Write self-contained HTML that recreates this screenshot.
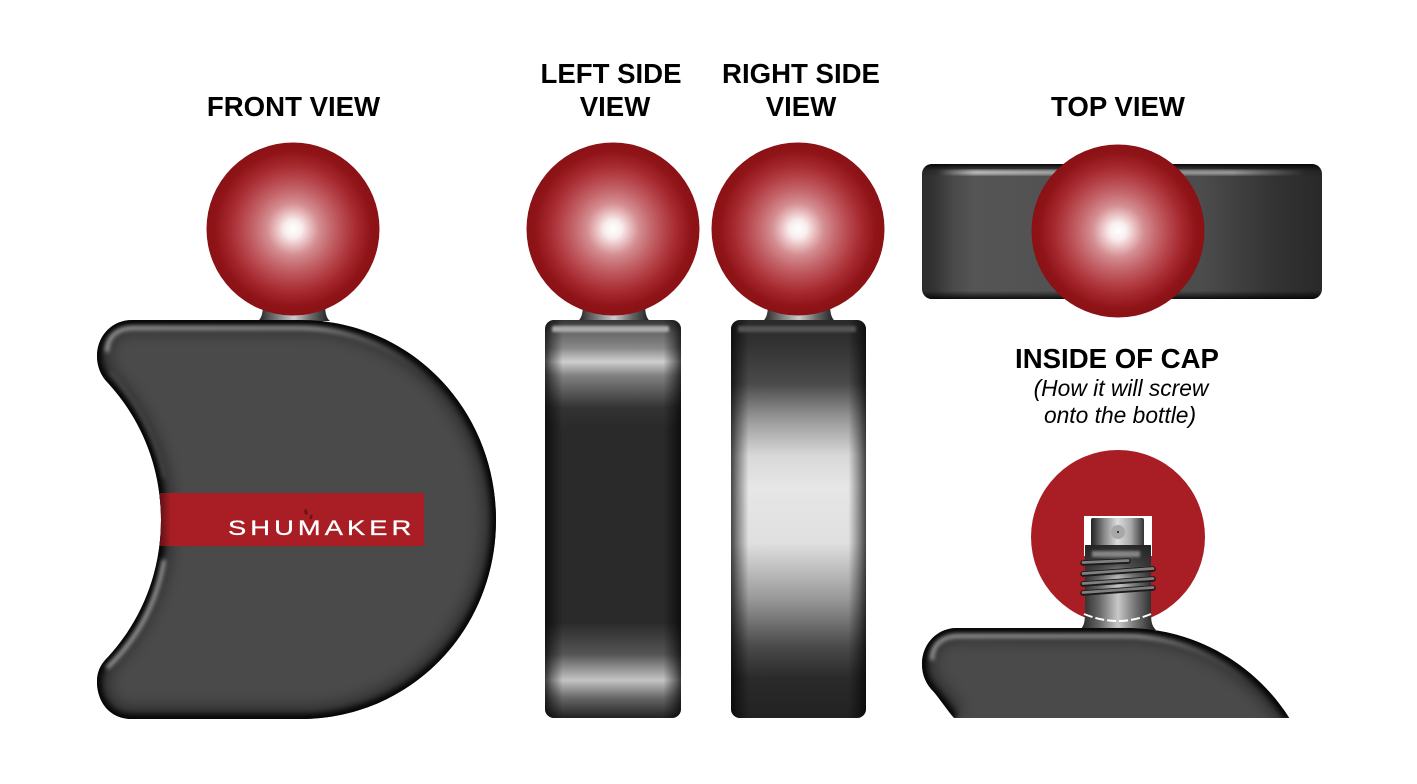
<!DOCTYPE html>
<html><head><meta charset="utf-8"><style>
html,body{margin:0;padding:0;background:#fff;width:1417px;height:784px;overflow:hidden}
svg{display:block;overflow:hidden}
text{font-family:"Liberation Sans",sans-serif}
.h{font-weight:bold;font-size:27.6px;text-anchor:middle;fill:#000}
.i{font-style:italic;font-size:22.8px;text-anchor:middle;fill:#000}
</style></head><body>
<svg width="1417" height="784" viewBox="0 0 1417 784" xmlns="http://www.w3.org/2000/svg">
<defs>
<radialGradient id="ball"><stop offset="0" stop-color="#fff"/><stop offset=".1" stop-color="#f9eeee"/><stop offset=".2" stop-color="#e8bcbe"/><stop offset=".3" stop-color="#d48e92"/><stop offset=".45" stop-color="#c4666b"/><stop offset=".6" stop-color="#b5444a"/><stop offset=".75" stop-color="#a4272d"/><stop offset=".9" stop-color="#8f1418"/><stop offset="1" stop-color="#8a1115"/></radialGradient>
<linearGradient id="neck" x1="0" x2="1" y1="0" y2="0"><stop offset="0" stop-color="#222"/><stop offset=".25" stop-color="#777"/><stop offset=".5" stop-color="#ccc"/><stop offset=".75" stop-color="#666"/><stop offset="1" stop-color="#1c1c1c"/></linearGradient>
<linearGradient id="hfade" gradientUnits="userSpaceOnUse" x1="105" x2="430" y1="0" y2="0"><stop offset="0" stop-color="#aaa"/><stop offset=".65" stop-color="#9a9a9a"/><stop offset="1" stop-color="#666" stop-opacity="0"/></linearGradient>
<path id="shape" d="M132 320L300 320C410 320 496 409 496 520C496 631 410 719 300 719L132 719C108 719 97 700 97 682C97 670 102 663 108 657C140 622 161 575 161 520C161 465 140 418 108 383C102 377 97 368 97 356C97 336 112 320 132 320Z"/>
<path id="shape2" d="M129 410C122 402 115 391 108 383C102 377 97 368 97 356C97 336 112 320 132 320L300 320C369.6 320 429.6 355.6 464.3 410"/>
<clipPath id="cb"><use href="#shape"/></clipPath>
<clipPath id="cb2"><use href="#shape2"/></clipPath>
<filter id="b1" x="-20%" y="-20%" width="140%" height="140%"><feGaussianBlur stdDeviation="1.4"/></filter>
<filter id="b3" x="-20%" y="-20%" width="140%" height="140%"><feGaussianBlur stdDeviation="3"/></filter>
<filter id="b2" x="-20%" y="-50%" width="140%" height="200%"><feGaussianBlur stdDeviation="2"/></filter>
<filter id="b7" x="-20%" y="-20%" width="140%" height="140%"><feGaussianBlur stdDeviation="7"/></filter>
<linearGradient id="lg" x1="0" x2="0" y1="0" y2="1"><stop offset="0" stop-color="#333"/><stop offset=".03" stop-color="#666"/><stop offset=".07" stop-color="#888"/><stop offset=".105" stop-color="#cfcfcf"/><stop offset=".14" stop-color="#808080"/><stop offset=".22" stop-color="#333"/><stop offset=".27" stop-color="#2a2a2a"/><stop offset=".76" stop-color="#2a2a2a"/><stop offset=".84" stop-color="#555"/><stop offset=".905" stop-color="#c4c4c4"/><stop offset=".95" stop-color="#666"/><stop offset="1" stop-color="#222"/></linearGradient>
<linearGradient id="rg" x1="0" x2="0" y1="0" y2="1"><stop offset="0" stop-color="#2a2a2a"/><stop offset=".06" stop-color="#323232"/><stop offset=".16" stop-color="#4a4a4a"/><stop offset=".25" stop-color="#999"/><stop offset=".34" stop-color="#d8d8d8"/><stop offset=".42" stop-color="#e6e6e6"/><stop offset=".56" stop-color="#e0e0e0"/><stop offset=".7" stop-color="#999"/><stop offset=".82" stop-color="#4a4a4a"/><stop offset=".9" stop-color="#2a2a2a"/><stop offset="1" stop-color="#222"/></linearGradient>
<linearGradient id="ed" x1="0" x2="1" y1="0" y2="0"><stop offset="0" stop-color="#000" stop-opacity=".7"/><stop offset=".05" stop-color="#000" stop-opacity=".4"/><stop offset=".13" stop-color="#000" stop-opacity="0"/><stop offset=".87" stop-color="#000" stop-opacity="0"/><stop offset=".95" stop-color="#000" stop-opacity=".4"/><stop offset="1" stop-color="#000" stop-opacity=".7"/></linearGradient>
<linearGradient id="tg" x1="0" x2="1" y1="0" y2="0"><stop offset="0" stop-color="#2c2c2c"/><stop offset=".03" stop-color="#333"/><stop offset=".08" stop-color="#4a4a4a"/><stop offset=".13" stop-color="#555"/><stop offset=".7" stop-color="#4c4c4c"/><stop offset=".88" stop-color="#333"/><stop offset="1" stop-color="#292929"/></linearGradient>
<linearGradient id="tv" x1="0" x2="0" y1="0" y2="1"><stop offset="0" stop-color="#000" stop-opacity=".9"/><stop offset=".05" stop-color="#000" stop-opacity=".15"/><stop offset=".1" stop-color="#000" stop-opacity="0"/><stop offset=".94" stop-color="#000" stop-opacity="0"/><stop offset="1" stop-color="#000" stop-opacity=".85"/></linearGradient>
<linearGradient id="hl" x1="0" x2="1" y1="0" y2="0"><stop offset="0" stop-color="#ccc" stop-opacity="0"/><stop offset=".1" stop-color="#ccc"/><stop offset=".5" stop-color="#999"/><stop offset=".8" stop-color="#aaa"/><stop offset="1" stop-color="#999" stop-opacity="0"/></linearGradient>
<linearGradient id="sp" x1="0" x2="1" y1="0" y2="0"><stop offset="0" stop-color="#222"/><stop offset=".25" stop-color="#888"/><stop offset=".5" stop-color="#ddd"/><stop offset=".75" stop-color="#aaa"/><stop offset="1" stop-color="#333"/></linearGradient>
<linearGradient id="col" x1="0" x2="1" y1="0" y2="0"><stop offset="0" stop-color="#222"/><stop offset=".25" stop-color="#666"/><stop offset=".5" stop-color="#c8c8c8"/><stop offset=".72" stop-color="#777"/><stop offset="1" stop-color="#1c1c1c"/></linearGradient>
<linearGradient id="coltop" x1="0" x2="0" y1="0" y2="1"><stop offset="0" stop-color="#222" stop-opacity=".95"/><stop offset=".6" stop-color="#333" stop-opacity=".75"/><stop offset="1" stop-color="#333" stop-opacity="0"/></linearGradient>
<linearGradient id="red" x1="0" x2="1" y1="0" y2="0"><stop offset="0" stop-color="#000" stop-opacity=".5"/><stop offset="1" stop-color="#000" stop-opacity="0"/></linearGradient>
<clipPath id="lc"><rect x="545" y="320" width="136" height="398" rx="9"/></clipPath>
<clipPath id="rc"><rect x="731" y="320" width="135" height="398" rx="9"/></clipPath>
</defs>
<rect width="1417" height="784" fill="#fff"/>

<text class="h" x="293.500" y="116">FRONT VIEW</text>
<text class="h" x="611" y="83">LEFT SIDE</text>
<text class="h" x="615" y="116">VIEW</text>
<text class="h" x="801" y="83">RIGHT SIDE</text>
<text class="h" x="801" y="116">VIEW</text>
<text class="h" x="1118" y="116">TOP VIEW</text>
<text class="h" x="1117" y="368">INSIDE OF CAP</text>
<text class="i" x="1121" y="396">(How it will screw</text>
<text class="i" x="1120" y="423">onto the bottle)</text>

<!-- front -->
<path d="M258 321C262 318 263 312 263 302H325C325 312 326 318 330 321Z" fill="url(#neck)"/>
<use href="#shape" fill="#4a4a4a"/>
<g clip-path="url(#cb)">
 <use href="#shape" fill="none" stroke="#000" stroke-width="26" filter="url(#b7)" opacity=".35"/>
 <use href="#shape" fill="none" stroke="#000" stroke-width="10" filter="url(#b3)" opacity=".9"/>
 <path d="M107 352C107 336 118 328 134 328L300 328C345 328 390 345 428 378" fill="none" stroke="url(#hfade)" stroke-width="3.500" filter="url(#b2)"/>
 <path d="M107 668C136 640 156 606 164 560" fill="none" stroke="#aaa" stroke-width="3.500" filter="url(#b2)"/>
 <path d="M110 372C136 402 156 436 164 478" fill="none" stroke="#666" stroke-width="2.500" filter="url(#b2)" opacity=".6"/>
 <rect x="150" y="493" width="274" height="53" fill="#a81e24"/>
 <rect x="158" y="493" width="13" height="53" fill="url(#red)"/>
</g>
<ellipse cx="306" cy="512" rx="1.700" ry="3" fill="#6e1216" transform="rotate(-15 306 512)"/>
<ellipse cx="311" cy="517" rx="1.500" ry="2.500" fill="#6e1216" transform="rotate(20 311 517)"/>
<text transform="translate(228 535) scale(1.3 1)" font-size="21" fill="#fff" stroke="#fff" stroke-width=".3" textLength="141" lengthAdjust="spacing">SHUMAKER</text>
<circle cx="293" cy="229" r="86.500" fill="url(#ball)"/>

<!-- left -->
<path d="M578 321C582 318 583 312 583 302H645C645 312 646 318 650 321Z" fill="url(#neck)"/>
<g clip-path="url(#lc)">
 <rect x="545" y="320" width="136" height="398" fill="url(#lg)"/>
 <rect x="545" y="320" width="136" height="398" fill="url(#ed)"/>
 <rect x="552" y="326" width="117" height="6" rx="2" fill="#aaa" filter="url(#b1)"/>
</g>
<circle cx="613" cy="229" r="86.500" fill="url(#ball)"/>

<!-- right -->
<path d="M763 321C767 318 768 312 768 302H830C830 312 831 318 835 321Z" fill="url(#neck)"/>
<g clip-path="url(#rc)">
 <rect x="731" y="320" width="135" height="398" fill="url(#rg)"/>
 <rect x="731" y="320" width="135" height="398" fill="url(#ed)"/>
 <rect x="738" y="326" width="118" height="6" rx="2" fill="#555" filter="url(#b1)"/>
</g>
<circle cx="798" cy="229" r="86.500" fill="url(#ball)"/>

<!-- top -->
<rect x="922" y="164" width="400" height="135" rx="10" fill="url(#tg)"/>
<rect x="922" y="164" width="400" height="135" rx="10" fill="url(#tv)"/>
<rect x="938" y="170" width="368" height="5" fill="url(#hl)" filter="url(#b1)" opacity=".85"/>
<circle cx="1118" cy="231" r="86.500" fill="url(#ball)"/>

<!-- inside cap -->
<circle cx="1118" cy="537" r="87" fill="#a81e24"/>
<rect x="1084" y="516" width="68" height="40" fill="#fff"/>
<rect x="1091" y="518" width="53" height="30" rx="2" fill="url(#sp)"/>
<circle cx="1118" cy="532" r="7" fill="#a8a8a8"/>
<circle cx="1118" cy="532" r="1" fill="#111"/>
<path d="M1085 548Q1085 545 1088 545H1148Q1151 545 1151 548V612C1151 622 1152 626 1156 630H1080C1084 626 1085 622 1085 612Z" fill="url(#col)"/>
<rect x="1085" y="545" width="66" height="34" fill="url(#coltop)"/>
<rect x="1092" y="551" width="48" height="6" fill="#9a9a9a" filter="url(#b1)" opacity=".8"/>
<g fill="none" stroke-linecap="round">
 <g stroke="#1a1a1a" stroke-width="5.500">
  <path d="M1083 563L1128 561"/><path d="M1083 574L1153 569"/><path d="M1083 584L1153 579"/><path d="M1083 593L1153 588"/>
 </g>
 <g stroke="#808080" stroke-width="2.800">
  <path d="M1083 562.500L1128 560.500"/><path d="M1083 573.500L1153 568.500"/><path d="M1083 583.500L1153 578.500"/><path d="M1083 592.500L1153 587.500"/>
 </g>
</g>
<path d="M1084 614Q1118 628 1151 614" fill="none" stroke="#fff" stroke-width="2" stroke-dasharray="9 3"/>
<g transform="translate(825 308)">
 <use href="#shape2" fill="#4a4a4a"/>
 <g clip-path="url(#cb2)">
  <use href="#shape2" fill="none" stroke="#000" stroke-width="26" filter="url(#b7)" opacity=".35"/>
  <use href="#shape2" fill="none" stroke="#000" stroke-width="10" filter="url(#b3)" opacity=".9"/>
  <path d="M107 352C107 336 118 328 134 328L300 328C345 328 390 345 428 378" fill="none" stroke="url(#hfade)" stroke-width="3.500" filter="url(#b2)"/>
 </g>
</g>
</svg>
</body></html>
